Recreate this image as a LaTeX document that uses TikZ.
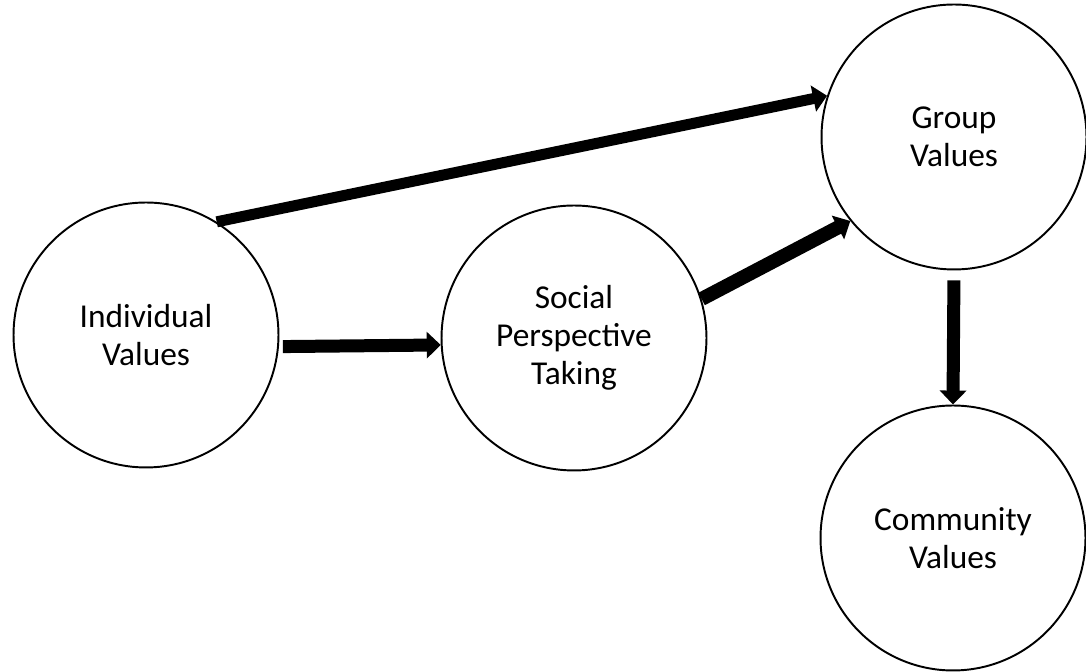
\documentclass[tikz,border=0pt]{standalone}
\usepackage{fontspec}
\setmainfont{Carlito}
\usetikzlibrary{arrows.meta}

\begin{document}
\begin{tikzpicture}[
    x=0.02cm, y=0.02cm,
    value/.style={circle, draw, line width=1.1pt, minimum size=5.3cm, inner sep=0pt, align=center, font=\fontsize{19}{21.6}\selectfont},
    arrow/.style={-{Triangle[width=0.52cm,length=0.28cm]}, line width=0.26cm}
]
    \useasboundingbox (0,0) rectangle (1086,672);

    % Values
    \node[value] (ind) at (146,337) {Individual\\Values};
    \node[value] (soc) at (574,334) {Social\\Perspective\\Taking};
    \node[value] (grp) at (954,535) {Group\\Values};
    \node[value] (com) at (953,134) {Community\\Values};

    % Edges
    \draw[arrow, line width=0.22cm] (ind.58) -- (grp.162);
    \draw[arrow, shorten <=0.08cm] (ind.-5) -- (soc.183.5);
    \draw[arrow, line width=0.28cm] (soc.17) -- (grp.219);
    \draw[arrow, shorten <=0.2cm] (grp.south) -- (com.north);
\end{tikzpicture}
\end{document}
